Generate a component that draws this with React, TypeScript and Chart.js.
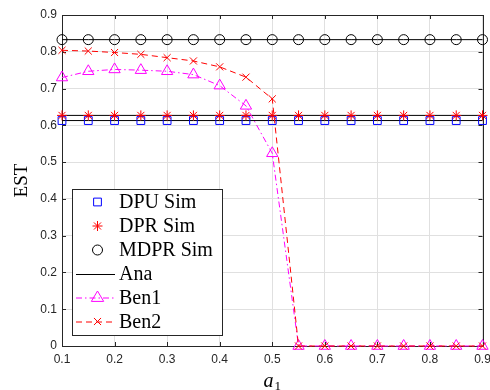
import React, { useEffect, useRef } from "react";
import { Chart, registerables } from "chart.js";

Chart.register(...registerables);

// ---- data ----
const aValues = [0.1, 0.15, 0.2, 0.25, 0.3, 0.35, 0.4, 0.45, 0.5, 0.55, 0.6, 0.65, 0.7, 0.75, 0.8, 0.85, 0.9];
const dpuSim = [0.613, 0.613, 0.613, 0.613, 0.613, 0.613, 0.613, 0.613, 0.613, 0.613, 0.613, 0.613, 0.613, 0.613, 0.613, 0.613, 0.613];
const dprSim = [0.627, 0.627, 0.627, 0.627, 0.627, 0.627, 0.627, 0.627, 0.627, 0.627, 0.627, 0.627, 0.627, 0.627, 0.627, 0.627, 0.627];
const mdprSim = [0.833, 0.833, 0.833, 0.833, 0.833, 0.833, 0.833, 0.833, 0.833, 0.833, 0.833, 0.833, 0.833, 0.833, 0.833, 0.833, 0.833];
const anaDPU = [0.613, 0.613, 0.613, 0.613, 0.613, 0.613, 0.613, 0.613, 0.613, 0.613, 0.613, 0.613, 0.613, 0.613, 0.613, 0.613, 0.613];
const anaDPR = [0.627, 0.627, 0.627, 0.627, 0.627, 0.627, 0.627, 0.627, 0.627, 0.627, 0.627, 0.627, 0.627, 0.627, 0.627, 0.627, 0.627];
const anaMDPR = [0.833, 0.833, 0.833, 0.833, 0.833, 0.833, 0.833, 0.833, 0.833, 0.833, 0.833, 0.833, 0.833, 0.833, 0.833, 0.833, 0.833];
const ben1 = [0.730, 0.747, 0.752, 0.750, 0.747, 0.738, 0.708, 0.653, 0.524, 0, 0, 0, 0, 0, 0, 0, 0];
const ben2 = [0.804, 0.802, 0.798, 0.793, 0.784, 0.775, 0.759, 0.731, 0.672, 0, 0, 0, 0, 0, 0, 0, 0];

const xTickMin = 0.1;
const xTickMax = 0.9;
const yTickMin = 0;
const yTickMax = 0.9;
const tickStep = 0.1;

const legendLabels = ["DPU Sim", "DPR Sim", "MDPR Sim", "Ana", "Ben1", "Ben2"];
const xTitle = "a";
const xTitleSub = "1";
const yTitle = "EST";

const pts = (ys: number[]) => aValues.map((x, i) => ({ x, y: ys[i] }));

const AXIS = "#262626";
const GRID = "#e0e0e0";
const BLUE = "#0000ff";
const RED = "#ff0000";
const MAGENTA = "#ff00ff";
const BLACK = "#000000";
const SERIF = "'Liberation Serif', 'Times New Roman', serif";
const SANS = "'Liberation Sans', Arial, Helvetica, sans-serif";

function drawMarker(ctx: CanvasRenderingContext2D, kind: string, x: number, y: number, r: number, color: string) {
  ctx.save();
  ctx.strokeStyle = color;
  ctx.lineWidth = 1;
  ctx.setLineDash([]);
  ctx.beginPath();
  if (kind === "rect") {
    const s = r * Math.SQRT1_2;
    ctx.rect(x - s, y - s, 2 * s, 2 * s);
  } else if (kind === "circle") {
    ctx.arc(x, y, r, 0, Math.PI * 2);
  } else if (kind === "triangle") {
    ctx.moveTo(x, y - r);
    ctx.lineTo(x + r * 0.95, y + r * 0.6);
    ctx.lineTo(x - r * 0.95, y + r * 0.6);
    ctx.closePath();
  } else if (kind === "crossRot") {
    const d = r * Math.SQRT1_2;
    ctx.moveTo(x - d, y - d);
    ctx.lineTo(x + d, y + d);
    ctx.moveTo(x - d, y + d);
    ctx.lineTo(x + d, y - d);
  } else if (kind === "star") {
    const d = r * Math.SQRT1_2;
    ctx.moveTo(x - d, y - d);
    ctx.lineTo(x + d, y + d);
    ctx.moveTo(x - d, y + d);
    ctx.lineTo(x + d, y - d);
    ctx.moveTo(x, y - r);
    ctx.lineTo(x, y + r);
    ctx.moveTo(x - r, y);
    ctx.lineTo(x + r, y);
  }
  ctx.stroke();
  ctx.restore();
}

const framePlugin = {
  id: "frame",
  beforeDatasetsDraw(chart: any) {
    const { ctx, chartArea } = chart;
    const { left, right, top, bottom } = chartArea;
    const xs = chart.scales.x;
    const ys = chart.scales.y;
    ctx.save();
    ctx.strokeStyle = AXIS;
    ctx.lineWidth = 1;
    ctx.beginPath();
    ctx.rect(Math.round(left) + 0.5, Math.round(top) + 0.5, Math.round(right - left), Math.round(bottom - top));
    ctx.stroke();
    const tl = 4;
    ctx.beginPath();
    xs.ticks.forEach((t: any) => {
      const px = Math.round(xs.getPixelForValue(t.value)) + 0.5;
      ctx.moveTo(px, bottom);
      ctx.lineTo(px, bottom - tl);
      ctx.moveTo(px, top);
      ctx.lineTo(px, top + tl);
    });
    ys.ticks.forEach((t: any) => {
      const py = Math.round(ys.getPixelForValue(t.value)) + 0.5;
      ctx.moveTo(left, py);
      ctx.lineTo(left + tl, py);
      ctx.moveTo(right, py);
      ctx.lineTo(right - tl, py);
    });
    ctx.stroke();
    ctx.restore();
  },
};

const overlayPlugin = {
  id: "overlay",
  afterDraw(chart: any) {
    const { ctx, chartArea } = chart;
    ctx.save();
    // axis titles
    ctx.fillStyle = BLACK;
    ctx.textBaseline = "middle";
    ctx.textAlign = "center";
    ctx.font = `19px ${SERIF}`;
    ctx.translate(22, (chartArea.top + chartArea.bottom) / 2);
    ctx.rotate(-Math.PI / 2);
    ctx.fillText(yTitle, 0, 0);
    ctx.setTransform(1, 0, 0, 1, 0, 0);
    const cx = (chartArea.left + chartArea.right) / 2;
    ctx.textAlign = "left";
    ctx.textBaseline = "alphabetic";
    ctx.font = `italic 20px ${SERIF}`;
    const aw = ctx.measureText(xTitle).width;
    ctx.font = `13px ${SERIF}`;
    const sw = ctx.measureText(xTitleSub).width;
    const startX = cx - (aw + sw + 1) / 2;
    ctx.font = `italic 20px ${SERIF}`;
    ctx.fillText(xTitle, startX, 387);
    ctx.font = `13px ${SERIF}`;
    ctx.fillText(xTitleSub, startX + aw + 1, 390);

    // legend
    const bx = 72.5, by = 189.5, bw = 150, bh = 146;
    ctx.fillStyle = "#ffffff";
    ctx.fillRect(bx, by, bw, bh);
    ctx.strokeStyle = AXIS;
    ctx.lineWidth = 1;
    ctx.strokeRect(bx, by, bw, bh);
    const rows = [202, 226, 250, 274, 297.5, 321.5];
    const mx = 97.5;
    const lx0 = 76, lx1 = 115;
    const tx = 119;
    drawMarker(ctx, "rect", mx, rows[0], 5.5, BLUE);
    drawMarker(ctx, "star", mx, rows[1], 5, RED);
    drawMarker(ctx, "circle", mx, rows[2], 5, BLACK);
    ctx.setLineDash([]);
    ctx.strokeStyle = BLACK;
    ctx.beginPath();
    ctx.moveTo(lx0, rows[3] + 0.5);
    ctx.lineTo(lx1, rows[3] + 0.5);
    ctx.stroke();
    ctx.strokeStyle = MAGENTA;
    ctx.setLineDash([6, 3, 1.5, 3]);
    ctx.beginPath();
    ctx.moveTo(lx0, rows[4] + 0.5);
    ctx.lineTo(lx1, rows[4] + 0.5);
    ctx.stroke();
    ctx.setLineDash([]);
    drawMarker(ctx, "triangle", mx, rows[4], 6.5, MAGENTA);
    ctx.strokeStyle = RED;
    ctx.setLineDash([6, 4]);
    ctx.beginPath();
    ctx.moveTo(lx0, rows[5] + 0.5);
    ctx.lineTo(lx1, rows[5] + 0.5);
    ctx.stroke();
    ctx.setLineDash([]);
    drawMarker(ctx, "crossRot", mx, rows[5], 5, RED);

    ctx.fillStyle = BLACK;
    ctx.font = `20px ${SERIF}`;
    ctx.textAlign = "left";
    ctx.textBaseline = "middle";
    legendLabels.forEach((lab, i) => ctx.fillText(lab, tx, rows[i] + 1));
    ctx.restore();
  },
};

export default function App() {
  const ref = useRef<HTMLCanvasElement>(null);
  useEffect(() => {
    document.body.style.margin = "0";
    const canvas = ref.current!;
    const fmt = (v: any) => String(Math.round(Number(v) * 10) / 10);
    const chart = new Chart(canvas, {
      type: "line",
      data: {
        datasets: [
          {
            label: "Ben2", data: pts(ben2), borderColor: RED, borderWidth: 1, borderDash: [6, 4],
            pointStyle: "crossRot", pointRadius: 5, pointBorderColor: RED, pointBackgroundColor: "rgba(0,0,0,0)",
            pointBorderWidth: 1, tension: 0, fill: false, clip: false,
          } as any,
          {
            label: "Ben1", data: pts(ben1), borderColor: MAGENTA, borderWidth: 1, borderDash: [6, 3, 1.5, 3],
            pointStyle: "triangle", pointRadius: 6.5, pointBorderColor: MAGENTA, pointBackgroundColor: "rgba(0,0,0,0)",
            pointBorderWidth: 1, tension: 0, fill: false, clip: false,
          } as any,
          {
            label: "DPR Sim", data: pts(dprSim), showLine: false, pointStyle: "star", pointRadius: 5,
            pointBorderColor: RED, pointBackgroundColor: "rgba(0,0,0,0)", pointBorderWidth: 1, clip: false,
          } as any,
          {
            label: "DPU Sim", data: pts(dpuSim), showLine: false, pointStyle: "rect", pointRadius: 5.5,
            pointBorderColor: BLUE, pointBackgroundColor: "rgba(0,0,0,0)", pointBorderWidth: 1, clip: false,
          } as any,
          {
            label: "MDPR Sim", data: pts(mdprSim), showLine: false, pointStyle: "circle", pointRadius: 5,
            pointBorderColor: BLACK, pointBackgroundColor: "rgba(0,0,0,0)", pointBorderWidth: 1, clip: false,
          } as any,
          { label: "Ana", data: pts(anaMDPR), borderColor: BLACK, borderWidth: 1, pointRadius: 0, tension: 0, clip: false } as any,
          { label: "Ana DPR", data: pts(anaDPR), borderColor: BLACK, borderWidth: 1, pointRadius: 0, tension: 0, clip: false } as any,
          { label: "Ana DPU", data: pts(anaDPU), borderColor: BLACK, borderWidth: 1, pointRadius: 0, tension: 0, clip: false } as any,
        ],
      },
      options: {
        animation: false,
        responsive: false,
        devicePixelRatio: 1,
        events: [],
        layout: { padding: { top: 15, right: 5, left: 0, bottom: 0 } },
        plugins: { legend: { display: false }, tooltip: { enabled: false }, title: { display: false } },
        scales: {
          x: {
            type: "linear",
            min: xTickMin,
            max: xTickMax,
            ticks: {
              stepSize: tickStep, callback: fmt, color: AXIS, padding: 6,
              font: { family: SANS, size: 12 }, maxRotation: 0, autoSkip: false,
            },
            grid: { color: GRID, drawTicks: false, lineWidth: 1 },
            border: { display: false },
            afterFit: (s: any) => { s.height = 44; s.paddingLeft = 0; s.paddingRight = 0; },
          },
          y: {
            type: "linear",
            min: yTickMin,
            max: yTickMax,
            ticks: {
              stepSize: tickStep, callback: fmt, color: AXIS, padding: 5,
              font: { family: SANS, size: 12 }, autoSkip: false,
            },
            grid: { color: GRID, drawTicks: false, lineWidth: 1 },
            border: { display: false },
            afterFit: (s: any) => { s.width = 62; s.paddingTop = 0; s.paddingBottom = 0; },
          },
        },
      } as any,
      plugins: [framePlugin, overlayPlugin],
    });
    return () => chart.destroy();
  }, []);
  return (
    <div style={{ position: "absolute", left: 0, top: 0, width: 490, height: 390, background: "#fff" }}>
      <canvas ref={ref} width={490} height={390} style={{ width: 490, height: 390, display: "block" }} />
    </div>
  );
}
